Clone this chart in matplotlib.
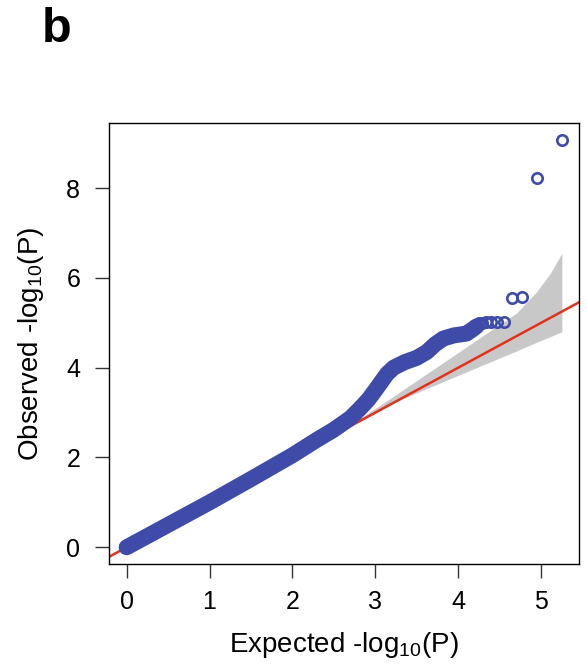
import numpy as np
import matplotlib.pyplot as plt

plt.rcParams['font.family'] = ['Liberation Sans', 'DejaVu Sans']
plt.rcParams['mathtext.fontset'] = 'custom'
plt.rcParams['mathtext.rm'] = 'Liberation Sans'

# dense part of the QQ curve (expected, observed -log10 P)
dense_exp = [0.00, 0.50, 1.00, 1.50, 2.00, 2.30, 2.50, 2.70, 2.82, 2.92, 3.00, 3.07,
             3.14, 3.22, 3.35, 3.50, 3.62, 3.72, 3.82, 3.95, 4.10, 4.17, 4.22]
dense_obs = [0.00, 0.50, 1.00, 1.52, 2.05, 2.40, 2.62, 2.88, 3.10, 3.30, 3.50, 3.68,
             3.86, 4.00, 4.12, 4.22, 4.35, 4.52, 4.65, 4.72, 4.76, 4.85, 4.92]

# top-ranked SNPs, drawn as single circles
top_exp = [5.25, 4.95, 4.77, 4.65, 4.55, 4.47, 4.40, 4.34, 4.29, 4.25]
top_obs = [9.08, 8.22, 5.57, 5.55, 5.01, 5.01, 5.01, 5.01, 5.00, 5.00]

# 95% confidence band
ci_x = [2.80, 3.20, 3.60, 4.00, 4.40, 4.70, 4.95, 5.11, 5.25]
ci_lo = [2.78, 3.20, 3.52, 3.83, 4.14, 4.37, 4.57, 4.69, 4.80]
ci_hi = [2.85, 3.34, 3.84, 4.34, 4.84, 5.21, 5.70, 6.10, 6.55]

blue = '#3f4ba8'

fig = plt.figure(figsize=(5.87, 6.68), dpi=100)
ax = fig.add_axes([0.1865, 0.1557, 0.7998, 0.6602])

ax.fill_between(ci_x, ci_lo, ci_hi, color='#c8c8c8', lw=0, zorder=1)
ax.axline((0, 0), slope=1, color='#e3321c', lw=1.8, zorder=2)
ax.plot(dense_exp, dense_obs, color=blue, lw=11.5, solid_capstyle='round',
        solid_joinstyle='round', zorder=3)
ax.plot(top_exp, top_obs, 'o', mfc='none', mec=blue, ms=7.5, mew=1.9, zorder=4)

ax.set_xlim(-0.207, 5.456)
ax.set_ylim(-0.372, 9.45)
ax.set_xticks([0, 1, 2, 3, 4, 5])
ax.set_yticks([0, 2, 4, 6, 8])
ax.tick_params(direction='out', length=10, width=1, labelsize=18, color='#333333')
ax.tick_params(axis='x', pad=9)
ax.tick_params(axis='y', pad=11)
for s in ax.spines.values():
    s.set_linewidth(1)

ax.set_xlabel(r'Expected -log$_{\mathregular{10}}$(P)', fontsize=20)
ax.set_ylabel(r'Observed -log$_{\mathregular{10}}$(P)', fontsize=20)
ax.xaxis.set_label_coords(0.5, -0.15)
ax.yaxis.set_label_coords(-0.135, 0.5)

fig.text(42 / 587, 1 - 42 / 668, 'b', fontsize=35, fontweight='bold', va='baseline')

fig.savefig('out.png', dpi=100)
